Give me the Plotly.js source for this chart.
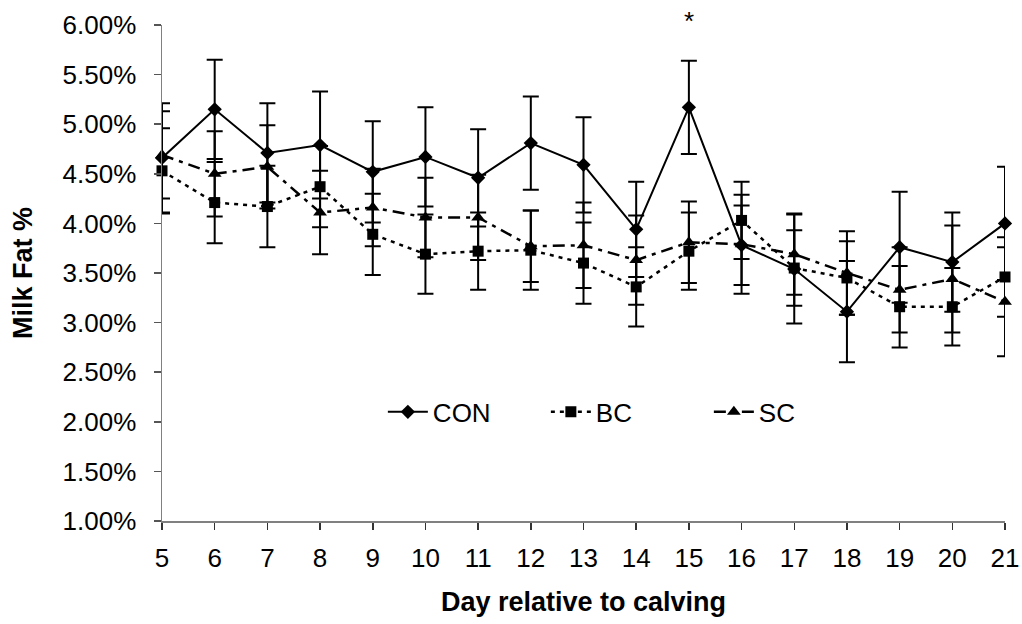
<!DOCTYPE html>
<html>
<head>
<meta charset="utf-8">
<script src="https://cdn.plot.ly/plotly-3.0.1.min.js"></script>
<style>
  html, body { margin: 0; padding: 0; background: #fff; }
  #chart { width: 1022px; height: 624px; }
</style>
</head>
<body>
<div id="chart"></div>
<script>
// Day relative to calving
const days = [5, 6, 7, 8, 9, 10, 11, 12, 13, 14, 15, 16, 17, 18, 19, 20, 21];
const tickLabels = ['5','6','7','8','9','10','11','12','13','14','15','16','17','18','19','20','21'];

// Milk fat % (means) and error (SE) by treatment
const conValues = [4.66, 5.15, 4.71, 4.79, 4.52, 4.67, 4.46, 4.81, 4.59, 3.94, 5.17, 3.78, 3.54, 3.11, 3.76, 3.61, 4.00];
const conErrors = [0.55, 0.50, 0.50, 0.54, 0.51, 0.50, 0.49, 0.47, 0.48, 0.48, 0.47, 0.40, 0.55, 0.51, 0.56, 0.50, 0.57];

const bcValues = [4.53, 4.21, 4.17, 4.37, 3.89, 3.69, 3.72, 3.73, 3.60, 3.36, 3.72, 4.03, 3.55, 3.45, 3.16, 3.16, 3.46];
const bcErrors = [0.43, 0.41, 0.41, 0.41, 0.41, 0.40, 0.39, 0.40, 0.41, 0.40, 0.39, 0.39, 0.38, 0.37, 0.41, 0.39, 0.40];

const scValues = [4.69, 4.50, 4.57, 4.11, 4.16, 4.06, 4.06, 3.77, 3.78, 3.63, 3.81, 3.79, 3.69, 3.50, 3.33, 3.44, 3.21];
const scErrors = [0.44, 0.43, 0.42, 0.42, 0.39, 0.40, 0.43, 0.36, 0.43, 0.45, 0.41, 0.50, 0.41, 0.42, 0.43, 0.54, 0.55];

const seriesNames = ['CON', 'BC', 'SC'];
const significantDays = [15];

const FONT = 'Liberation Sans, Arial, sans-serif';

function errBar(arr) {
  return { type: 'data', array: arr, visible: true, color: '#000', thickness: 2, width: 8 };
}

const traces = [
  {
    x: days, y: conValues, name: seriesNames[0], type: 'scatter', mode: 'lines+markers',
    line: { color: '#000', width: 2, dash: 'solid' },
    marker: { symbol: 'diamond', size: 11, color: '#000' },
    error_y: errBar(conErrors), cliponaxis: false
  },
  {
    x: days, y: bcValues, name: seriesNames[1], type: 'scatter', mode: 'lines+markers',
    line: { color: '#000', width: 2.5, dash: '4px,5px' },
    marker: { symbol: 'square', size: 11, color: '#000' },
    error_y: errBar(bcErrors), cliponaxis: false
  },
  {
    x: days, y: scValues, name: seriesNames[2], type: 'scatter', mode: 'lines+markers',
    line: { color: '#000', width: 2.5, dash: '12px,6px,4px,6px' },
    marker: { symbol: 'triangle-up', size: 12, color: '#000' },
    error_y: errBar(scErrors), cliponaxis: false
  }
];

const annotations = significantDays.map(d => ({
  x: d, y: 6.0, xref: 'x', yref: 'y', text: '*', showarrow: false,
  yanchor: 'middle', yshift: 4,
  font: { family: FONT, size: 26, color: '#000' }
}));

const layout = {
  width: 1022, height: 624,
  margin: { l: 162, r: 17, t: 25, b: 103 },
  paper_bgcolor: '#fff', plot_bgcolor: '#fff',
  font: { family: FONT, color: '#000' },
  showlegend: true,
  legend: {
    orientation: 'h', x: 0.262, xanchor: 'left', y: 0.22, yanchor: 'middle',
    bgcolor: 'rgba(0,0,0,0)', font: { family: FONT, size: 26, color: '#000' },
    itemwidth: 40, entrywidth: 108, entrywidthmode: 'pixels'
  },
  xaxis: {
    range: [5, 21], tickmode: 'array', tickvals: days, ticktext: tickLabels,
    showgrid: false, zeroline: false, showline: true, linecolor: '#808080', linewidth: 1.5,
    ticks: 'outside', ticklen: 7, tickwidth: 1.5, tickcolor: '#333',
    ticklabelstandoff: 6,
    tickfont: { family: FONT, size: 26, color: '#000' },
    title: { text: 'Day relative to calving', standoff: 20,
             font: { family: FONT, size: 27, color: '#000', weight: 'bold' } }
  },
  yaxis: {
    range: [1, 6], dtick: 0.5, tick0: 1, tickformat: '.2f', ticksuffix: '%',
    showgrid: false, zeroline: false, showline: true, linecolor: '#808080', linewidth: 1.5,
    ticks: 'outside', ticklen: 7, tickwidth: 1.5, tickcolor: '#555',
    ticklabelstandoff: 12,
    tickfont: { family: FONT, size: 26, color: '#000' },
    title: { text: 'Milk Fat %', standoff: 22,
             font: { family: FONT, size: 27, color: '#000', weight: 'bold' } }
  },
  annotations: annotations
};

Plotly.newPlot('chart', traces, layout, { displayModeBar: false, staticPlot: true });
</script>
</body>
</html>
